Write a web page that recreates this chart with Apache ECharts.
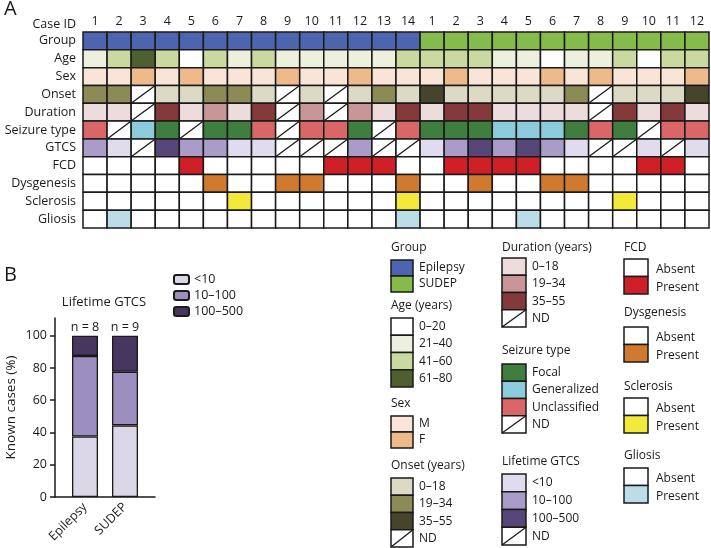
<!DOCTYPE html>
<html>
<head>
<meta charset="utf-8">
<script src="https://cdn.jsdelivr.net/npm/echarts@6/dist/echarts.min.js"></script>
<style>
html,body{margin:0;padding:0;background:#fff}
#main{width:711px;height:548px}
</style>
</head>
<body>
<div id="main"></div>
<script>
// ---- panel A data ----
var caseIds = ['1','2','3','4','5','6','7','8','9','10','11','12','13','14',
               '1','2','3','4','5','6','7','8','9','10','11','12'];
var rowNames = ['Group','Age','Sex','Onset','Duration','Seizure type','GTCS','FCD','Dysgenesis','Sclerosis','Gliosis'];
// codes index into the row palette, -1 = ND
var groupRow    = [0,0,0,0,0,0,0,0,0,0,0,0,0,0, 1,1,1,1,1,1,1,1,1,1,1,1];
var ageRow      = [1,2,3,2,0,2,1,2,1,1,1,1,1,2, 2,2,2,1,1,0,1,1,2,0,2,2];
var sexRow      = [0,0,1,0,1,0,0,0,1,0,0,1,0,0, 0,1,0,0,0,1,0,1,0,0,0,1];
var onsetRow    = [1,1,-1,0,0,1,1,0,-1,0,-1,0,1,0, 2,0,0,0,0,0,1,-1,0,0,0,2];
var durationRow = [0,0,-1,2,0,1,0,2,-1,1,-1,1,0,2, 0,2,2,0,0,0,0,-1,2,0,2,0];
var seizureRow  = [2,-1,1,0,-1,0,0,2,-1,2,2,0,-1,2, 0,0,0,1,1,1,0,2,0,-1,2,2];
var gtcsRow     = [1,0,-1,2,1,1,0,0,-1,-1,-1,1,-1,-1, 0,1,2,1,2,1,0,-1,-1,0,-1,0];
var fcdRow      = [0,0,0,0,1,0,0,0,0,0,1,1,1,0, 0,1,1,1,1,0,0,0,0,1,1,0];
var dysRow      = [0,0,0,0,0,1,0,0,1,1,0,0,0,1, 0,0,1,0,0,1,1,0,0,0,0,0];
var sclRow      = [0,0,0,0,0,0,1,0,0,0,0,0,0,1, 0,0,0,0,0,0,0,0,1,0,0,0];
var gliRow      = [0,1,0,0,0,0,0,0,0,0,0,0,0,1, 0,0,0,0,1,0,0,0,0,0,0,0];

var groupColors    = ['#4c65ae','#84bb4b'];
var ageColors      = ['#ffffff','#edf0dc','#c9d9a0','#4f5f2f'];
var sexColors      = ['#f9e5d7','#efba8b'];
var onsetColors    = ['#dcdac4','#8c8a57','#46452c'];
var durationColors = ['#eddcdc','#c99697','#843a3b'];
var seizureColors  = ['#3f7e3e','#8ccbdc','#da6767'];
var gtcsColors     = ['#e1dced','#a99cc9','#574778'];
var fcdColors      = ['#ffffff','#d02027'];
var dysColors      = ['#ffffff','#d07a30'];
var sclColors      = ['#ffffff','#f2e93a'];
var gliColors      = ['#ffffff','#bcdde8'];

var groupLabels    = ['Epilepsy','SUDEP'];
var ageLabels      = ['0–20','21–40','41–60','61–80'];
var sexLabels      = ['M','F'];
var onsetLabels    = ['0–18','19–34','35–55'];
var durationLabels = ['0–18','19–34','35–55'];
var seizureLabels  = ['Focal','Generalized','Unclassified'];
var gtcsLabels     = ['<10','10–100','100–500'];
var presenceLabels = ['Absent','Present'];

// ---- panel B data ----
var barGroups = ['Epilepsy','SUDEP'];
var lt10      = [37.5, 44.4];
var mid10_100 = [50.0, 33.3];
var hi100_500 = [12.5, 22.3];
var nLabels   = ['n = 8','n = 9'];
var yTicks    = [0, 20, 40, 60, 80, 100];
var barColors = ['#dcd7e7','#9c8fbf','#47365f'];

var FONT = '"Open Sans", sans-serif';
var INK = '#1a1a1a';

var rows = [groupRow, ageRow, sexRow, onsetRow, durationRow, seizureRow, gtcsRow, fcdRow, dysRow, sclRow, gliRow];
var rowPalettes = [groupColors, ageColors, sexColors, onsetColors, durationColors, seizureColors, gtcsColors,
                   fcdColors, dysColors, sclColors, gliColors];

var cellData = [];
rows.forEach(function (row, r) {
  row.forEach(function (code, c) { cellData.push([c, r, code]); });
});

function renderCell(params, api) {
  var c = api.value(0), r = api.value(1), code = api.value(2);
  var ctr = api.coord([c, r]);
  var sz = api.size([1, 1]);
  var x0 = ctr[0] - sz[0] / 2, y0 = ctr[1] - sz[1] / 2;
  var nd = code < 0;
  var kids = [{
    type: 'rect',
    shape: {x: x0, y: y0, width: sz[0], height: sz[1]},
    style: {fill: nd ? '#ffffff' : rowPalettes[r][code], stroke: INK, lineWidth: 1.5}
  }];
  if (nd) {
    kids.push({type: 'line', shape: {x1: x0, y1: y0 + sz[1], x2: x0 + sz[0], y2: y0},
               style: {stroke: INK, lineWidth: 1.3}});
  }
  return {type: 'group', children: kids};
}

// legend boxes of panel A
var graphics = [];
function legendBlock(title, x, titleY, top, w, h, labelDx, colors, labels, withND, labelDy) {
  graphics.push({type: 'text', left: x, top: titleY - 9,
    style: {text: title, font: '12px ' + FONT, fill: INK}});
  var items = colors.map(function (c, i) { return {color: c, label: labels[i]}; });
  if (withND) items.push({color: null, label: 'ND'});
  items.forEach(function (it, i) {
    var y = top + i * h;
    graphics.push({type: 'rect', shape: {x: x, y: y, width: w, height: h},
      style: {fill: it.color || '#ffffff', stroke: INK, lineWidth: 1.5}});
    if (!it.color) {
      graphics.push({type: 'line', shape: {x1: x, y1: y + h, x2: x + w, y2: y},
        style: {stroke: INK, lineWidth: 1.3}});
    }
    graphics.push({type: 'text', x: x + labelDx, y: y + h / 2 + (labelDy || 0),
      style: {text: it.label, font: '12px ' + FONT, fill: INK, verticalAlign: 'middle'}});
  });
}
legendBlock('Group', 391, 251, 260, 22, 16, 28, groupColors, groupLabels, false);
legendBlock('Age (years)', 391, 309, 318, 22, 17.25, 28, ageColors, ageLabels, false);
legendBlock('Sex', 391, 407, 416, 22, 16, 28, sexColors, sexLabels, false);
legendBlock('Onset (years)', 391, 469, 478, 22, 17.25, 28, onsetColors, onsetLabels, true);
legendBlock('Duration (years)', 502, 251, 258, 24, 17.25, 30, durationColors, durationLabels, true);
legendBlock('Seizure type', 502, 354, 364, 24, 17.25, 30, seizureColors, seizureLabels, true);
legendBlock('Lifetime GTCS', 502, 465, 474, 24, 17.75, 30, gtcsColors, gtcsLabels, true);
legendBlock('FCD', 624, 251, 259, 24, 17.5, 32, fcdColors, presenceLabels, false, 2);
legendBlock('Dysgenesis', 624, 316, 327, 24, 17.5, 32, dysColors, presenceLabels, false, 2);
legendBlock('Sclerosis', 624, 390, 398, 24, 17.5, 32, sclColors, presenceLabels, false, 2);
legendBlock('Gliosis', 624, 459, 468, 24, 17.5, 32, gliColors, presenceLabels, false, 2);

graphics.push({type: 'text', left: 4, top: -1, style: {text: 'A', font: '20px ' + FONT, fill: INK}});
graphics.push({type: 'text', left: 4, top: 265, style: {text: 'B', font: '20px ' + FONT, fill: INK}});
graphics.push({type: 'text', x: 76, y: 24, style: {text: 'Case ID', font: '12.5px ' + FONT, fill: INK,
  align: 'right', verticalAlign: 'middle'}});
graphics.push({type: 'text', x: 104, y: 302, style: {text: 'Lifetime GTCS', font: '13px ' + FONT, fill: INK,
  align: 'center', verticalAlign: 'middle'}});

// bar x axis: groups placed on slots 1 and 3 of five
function pad(arr) { return ['-', arr[0], '-', arr[1], '-']; }
var barCats = ['', barGroups[0], '', barGroups[1], ''];
function oddSlot(i) { return i % 2 === 1; }

var myChart = echarts.init(document.getElementById('main'));
myChart.setOption({
  animation: false,
  textStyle: {fontFamily: FONT},
  grid: [
    {left: 83, top: 32, width: 626, height: 196},
    {left: 55, top: 318, width: 100, height: 179}
  ],
  xAxis: [
    {
      type: 'category', gridIndex: 0, position: 'top', data: caseIds,
      axisLine: {show: false}, axisTick: {show: false},
      axisLabel: {interval: 0, margin: 4, fontSize: 12.5, color: INK, fontFamily: FONT}
    },
    {
      type: 'category', gridIndex: 1, data: barCats,
      axisLine: {lineStyle: {color: INK, width: 1.5}},
      axisTick: {alignWithLabel: true, interval: oddSlot, length: 5, lineStyle: {color: INK, width: 1.5}},
      axisLabel: {interval: oddSlot, rotate: 45, margin: 8, fontSize: 12.5, color: INK, fontFamily: FONT}
    }
  ],
  yAxis: [
    {
      type: 'category', gridIndex: 0, inverse: true, data: rowNames,
      axisLine: {show: false}, axisTick: {show: false},
      axisLabel: {margin: 7, fontSize: 12.5, color: INK, fontFamily: FONT}
    },
    {
      type: 'value', gridIndex: 1, min: 0, max: 111,
      name: 'Known cases (%)', nameLocation: 'middle', nameGap: 37,
      nameTextStyle: {fontSize: 13.5, color: INK, fontFamily: FONT},
      splitLine: {show: false},
      axisLine: {show: true, lineStyle: {color: INK, width: 1.5}},
      axisTick: {show: true, length: 5, customValues: yTicks, lineStyle: {color: INK, width: 1.5}},
      axisLabel: {customValues: yTicks, margin: 8, fontSize: 12.5, color: INK, fontFamily: FONT}
    }
  ],
  legend: {
    data: ['<10', '10–100', '100–500'],
    orient: 'vertical', left: 168, top: 268,
    itemWidth: 15, itemHeight: 9, itemGap: 3,
    textStyle: {fontSize: 12.5, color: INK, fontFamily: FONT}
  },
  series: [
    {type: 'custom', name: 'cells', xAxisIndex: 0, yAxisIndex: 0, renderItem: renderCell,
     data: cellData, silent: true},
    {type: 'bar', name: '<10', xAxisIndex: 1, yAxisIndex: 1, stack: 'gtcs', barWidth: 26,
     data: pad(lt10), itemStyle: {color: barColors[0], borderColor: INK, borderWidth: 1.3}},
    {type: 'bar', name: '10–100', xAxisIndex: 1, yAxisIndex: 1, stack: 'gtcs', barWidth: 26,
     data: pad(mid10_100), itemStyle: {color: barColors[1], borderColor: INK, borderWidth: 1.3}},
    {type: 'bar', name: '100–500', xAxisIndex: 1, yAxisIndex: 1, stack: 'gtcs', barWidth: 26,
     data: pad(hi100_500), itemStyle: {color: barColors[2], borderColor: INK, borderWidth: 1.3},
     label: {show: true, position: 'top', distance: 2, fontSize: 12.5, color: INK, fontFamily: FONT,
       formatter: function (p) { return nLabels[(p.dataIndex - 1) / 2]; }}}
  ],
  graphic: graphics
});
window.onresize = myChart.resize;
</script>
</body>
</html>
